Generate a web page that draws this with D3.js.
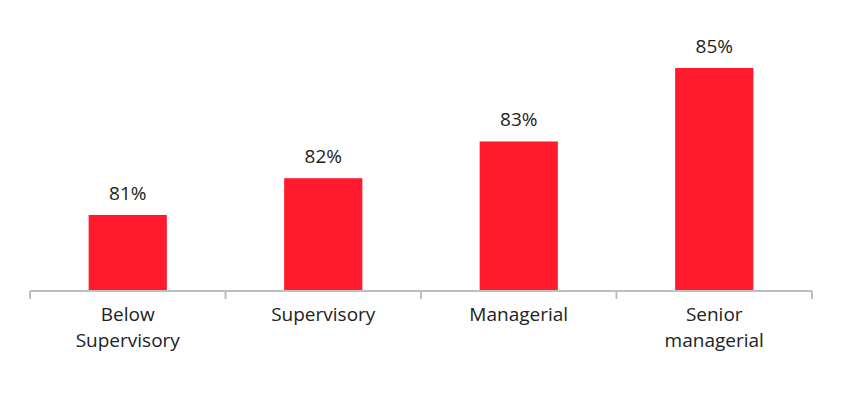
<!DOCTYPE html>
<html><head><meta charset="utf-8">
<script src="https://cdn.jsdelivr.net/npm/d3@7"></script>
<style>body{margin:0;background:#fff}text{font-family:"Open Sans",Roboto,sans-serif}</style>
</head><body><svg id="c" width="859" height="411"></svg>
<script>
const categories = [["Below","Supervisory"],["Supervisory"],["Managerial"],["Senior","managerial"]];
const values = [81, 82, 83, 85];
const svg = d3.select("#c");
const keys = categories.map(c=>c.join(" "));
const x = d3.scaleBand().domain(keys).range([30,812]).paddingInner(0.6).paddingOuter(0.3);
const y = d3.scaleLinear().domain([78.93,85]).range([291,68]);
svg.selectAll("rect").data(values).join("rect")
  .attr("x",(d,i)=>x(keys[i])).attr("width",x.bandwidth())
  .attr("y",d=>y(d)).attr("height",d=>291-y(d)).attr("fill","#FF1A2E");
svg.selectAll("text.v").data(values).join("text").attr("class","v")
  .attr("x",(d,i)=>x(keys[i])+x.bandwidth()/2).attr("y",d=>y(d)-15)
  .attr("text-anchor","middle").attr("font-size",19).attr("fill","#222").text(d=>d+"%");
const step = (812-30)/4;
svg.append("line").attr("x1",30).attr("x2",812).attr("y1",291).attr("y2",291).attr("stroke","#bfbfbf").attr("stroke-width",2);
d3.range(5).forEach(i=>svg.append("line").attr("x1",30+i*step).attr("x2",30+i*step).attr("y1",291).attr("y2",299).attr("stroke","#bfbfbf").attr("stroke-width",2));
categories.forEach((c,i)=>{
  const t = svg.append("text").attr("text-anchor","middle").attr("font-size",19).attr("fill","#222")
    .attr("x",x(keys[i])+x.bandwidth()/2).attr("y",321);
  c.forEach((l,j)=>t.append("tspan").attr("x",x(keys[i])+x.bandwidth()/2).attr("dy",j?26:0).text(l));
});
</script></body></html>
